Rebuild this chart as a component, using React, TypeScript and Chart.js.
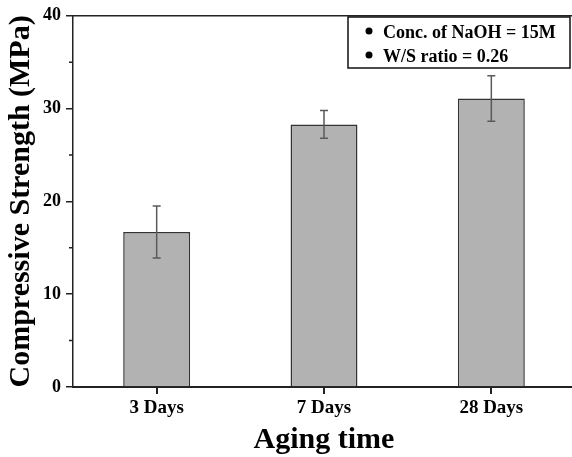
import React, { useEffect, useRef } from "react";
import { Chart, registerables } from "chart.js";

Chart.register(...registerables);

const categories = ["3 Days", "7 Days", "28 Days"];
const strength = [16.7, 28.3, 31.1];
const strengthErr = [2.8, 1.5, 2.45];
const yTicks = [0, 10, 20, 30, 40];
const yMinorTicks = [5, 15, 25, 35];
const legendLines = ["Conc. of NaOH = 15M", "W/S ratio = 0.26"];

const FONT = "'Liberation Serif', 'Times New Roman', serif";

const extrasPlugin = {
  id: "extras",
  afterDatasetsDraw(chart: any) {
    const ctx = chart.ctx;
    const x = chart.scales.x;
    const y = chart.scales.y;
    ctx.save();
    // error bars
    ctx.strokeStyle = "#5a5a5a";
    ctx.lineWidth = 1.5;
    strength.forEach((v, i) => {
      const cx = x.getPixelForValue(i);
      const yt = y.getPixelForValue(v + strengthErr[i]);
      const yb = y.getPixelForValue(v - strengthErr[i]);
      ctx.beginPath();
      ctx.moveTo(cx, yt);
      ctx.lineTo(cx, yb);
      ctx.moveTo(cx - 4, yt);
      ctx.lineTo(cx + 4, yt);
      ctx.moveTo(cx - 4, yb);
      ctx.lineTo(cx + 4, yb);
      ctx.stroke();
    });
    ctx.restore();
  },
  afterDraw(chart: any) {
    const ctx = chart.ctx;
    const x = chart.scales.x;
    const y = chart.scales.y;
    const area = chart.chartArea;
    ctx.save();
    // top frame line
    ctx.strokeStyle = "#222";
    ctx.lineWidth = 1.5;
    ctx.beginPath();
    ctx.moveTo(area.left, area.top);
    ctx.lineTo(area.right, area.top);
    ctx.stroke();
    // minor y ticks
    ctx.beginPath();
    yMinorTicks.forEach((t) => {
      const py = y.getPixelForValue(t);
      ctx.moveTo(area.left - 4, py);
      ctx.lineTo(area.left, py);
    });
    ctx.stroke();
    // x ticks at category centres
    ctx.lineWidth = 2;
    ctx.strokeStyle = "#222";
    ctx.beginPath();
    categories.forEach((_, i) => {
      const px = Math.round(x.getPixelForValue(i));
      ctx.moveTo(px, area.bottom);
      ctx.lineTo(px, area.bottom + 7);
    });
    ctx.stroke();
    // legend box
    const bx = 348, by = 17, bw = 222, bh = 51;
    ctx.fillStyle = "#fff";
    ctx.fillRect(bx, by, bw, bh);
    ctx.strokeStyle = "#111";
    ctx.lineWidth = 1.5;
    ctx.strokeRect(bx, by, bw, bh);
    ctx.fillStyle = "#000";
    ctx.font = `bold 18px ${FONT}`;
    ctx.textBaseline = "alphabetic";
    ctx.textAlign = "left";
    legendLines.forEach((line, i) => {
      const cy = 31 + i * 24;
      ctx.beginPath();
      ctx.arc(369, cy, 3.5, 0, Math.PI * 2);
      ctx.fill();
      ctx.fillText(line, 383, cy + 7);
    });
    ctx.restore();
  },
};

export default function App() {
  const ref = useRef<HTMLCanvasElement | null>(null);
  useEffect(() => {
    if (!ref.current) return;
    const chart = new Chart(ref.current, {
      type: "bar",
      data: {
        labels: categories,
        datasets: [
          {
            data: strength,
            backgroundColor: "#b2b2b2",
            borderColor: "#333",
            borderWidth: 1.5,
            barPercentage: 0.4,
            categoryPercentage: 1,
          },
        ],
      },
      options: {
        responsive: false,
        animation: false,
        layout: { padding: { top: 15, left: 0, right: 0, bottom: 0 } },
        plugins: { legend: { display: false }, tooltip: { enabled: false } },
        scales: {
          x: {
            afterFit(s: any) {
              s.height = 70;
            },
            grid: {
              drawOnChartArea: false,
              drawTicks: true,
              tickLength: 7,
              color: "rgba(0,0,0,0)",
              lineWidth: 1.5,
            },
            border: { display: true, color: "#222", width: 2 },
            ticks: {
              color: "#000",
              padding: 3,
              font: { family: FONT, size: 19, weight: "bold" },
            },
            title: {
              display: true,
              text: "Aging time",
              color: "#000",
              padding: { top: 0, bottom: 2 },
              font: { family: FONT, size: 30, weight: "bold", lineHeight: 1 },
            },
          },
          y: {
            min: 0,
            max: 40,
            afterFit(s: any) {
              s.width = 73;
            },
            afterBuildTicks(s: any) {
              s.ticks = yTicks.map((v) => ({ value: v }));
            },
            grid: {
              drawOnChartArea: false,
              drawTicks: true,
              tickLength: 7,
              color: "#222",
              lineWidth: 1.5,
            },
            border: { display: true, color: "#222", width: 1.5 },
            ticks: {
              color: "#000",
              padding: 5,
              font: { family: FONT, size: 18, weight: "bold" },
            },
            title: {
              display: true,
              text: "Compressive Strength (MPa)",
              color: "#000",
              padding: { top: 3, bottom: 0 },
              font: { family: FONT, size: 30, weight: "bold", lineHeight: 1.2 },
            },
          },
        },
      },
      plugins: [extrasPlugin],
    });
    return () => chart.destroy();
  }, []);
  return (
    <div style={{ position: "fixed", left: 0, top: 0, width: 575, height: 457, background: "#fff" }}>
      <canvas ref={ref} width={575} height={457} />
    </div>
  );
}
